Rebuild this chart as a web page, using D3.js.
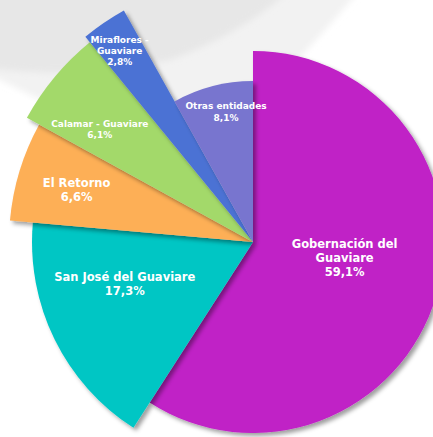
<!DOCTYPE html>
<html>
<head>
<meta charset="utf-8">
<script src="https://cdn.jsdelivr.net/npm/d3@7"></script>
<style>
  body { margin: 0; background: #fff; }
  svg { display: block; }
</style>
</head>
<body>
<div id="chart"></div>
<script>
// data
const categories = ['Gobernación del Guaviare', 'San José del Guaviare', 'El Retorno',
  'Calamar - Guaviare', 'Miraflores - Guaviare', 'Otras entidades'];
const values = [59.1, 17.3, 6.6, 6.1, 2.8, 8.1];
const labelLines = [
  ['Gobernación del', 'Guaviare'],
  ['San José del Guaviare'],
  ['El Retorno'],
  ['Calamar - Guaviare'],
  ['Miraflores -', 'Guaviare'],
  ['Otras entidades']
];

// layout (not data)
const colors = ['#c020c6', '#05c6c4', '#fdaf57', '#a3d96b', '#4c72d4', '#7875cf'];
const radii = [191, 221, 244, 258, 265, 161];
const labelRadius = [93, 135, 184, 190, 233, 133];
const labelAngleAdj = [-6.5, 7.9, -0.4, -3.5, -0.7, 2.9];
const fontSizes = [11.5, 11.5, 11.5, 9, 9, 9];

const width = 433, height = 437;
const cx = 253, cy = 242;

const svg = d3.select('#chart').append('svg')
  .attr('width', width)
  .attr('height', height);

const defs = svg.append('defs');

const blur = defs.append('filter').attr('id', 'bg-blur')
  .attr('x', '-20%').attr('y', '-20%').attr('width', '140%').attr('height', '140%');
blur.append('feGaussianBlur').attr('stdDeviation', 3);

const shadow = defs.append('filter').attr('id', 'shadow')
  .attr('x', '-20%').attr('y', '-20%').attr('width', '140%').attr('height', '140%');
shadow.append('feDropShadow')
  .attr('dx', 3).attr('dy', 3)
  .attr('stdDeviation', 2.2)
  .attr('flood-color', '#000')
  .attr('flood-opacity', 0.38);

// background decoration
svg.append('rect').attr('width', width).attr('height', height).attr('fill', '#ffffff');
svg.append('path')
  .attr('d', 'M-10,-10 L360,-10 Q300,60 240,120 L150,150 Q60,110 -10,75 Z')
  .attr('fill', '#f2f2f2')
  .attr('filter', 'url(#bg-blur)');
svg.append('path')
  .attr('d', 'M-10,-10 L290,-10 Q240,35 170,60 Q80,80 -10,68 Z')
  .attr('fill', '#e7e7e7')
  .attr('filter', 'url(#bg-blur)');

const pie = d3.pie().sort(null).value(d => d)(values);

const g = svg.append('g').attr('transform', `translate(${cx},${cy})`);

// Slices
g.selectAll('.slice')
  .data(pie)
  .enter()
  .append('path')
  .attr('class', 'slice')
  .attr('d', (d, i) => d3.arc().innerRadius(0).outerRadius(radii[i])(d))
  .attr('fill', (d, i) => colors[i])
  .attr('filter', 'url(#shadow)');

// Labels
const labels = g.selectAll('.label')
  .data(pie)
  .enter()
  .append('text')
  .attr('class', 'label')
  .attr('text-anchor', 'middle')
  .attr('fill', '#ffffff')
  .attr('font-family', '"DejaVu Sans", Verdana, sans-serif')
  .attr('font-weight', 'bold')
  .attr('font-size', (d, i) => fontSizes[i])
  .attr('transform', (d, i) => {
    const a = (d.startAngle + d.endAngle) / 2 + labelAngleAdj[i] * Math.PI / 180;
    const r = labelRadius[i];
    return `translate(${r * Math.sin(a)},${-r * Math.cos(a)})`;
  });

labels.each(function (d, i) {
  const lines = labelLines[i].concat([d3.format('.1f')(d.value).replace('.', ',') + '%']);
  const lh = fontSizes[i] * 1.25;
  const y0 = -((lines.length - 1) * lh) / 2 + fontSizes[i] * 0.36;
  d3.select(this).selectAll('tspan')
    .data(lines)
    .enter()
    .append('tspan')
    .attr('x', 0)
    .attr('y', (t, j) => y0 + j * lh)
    .text(t => t);
});
</script>
</body>
</html>
